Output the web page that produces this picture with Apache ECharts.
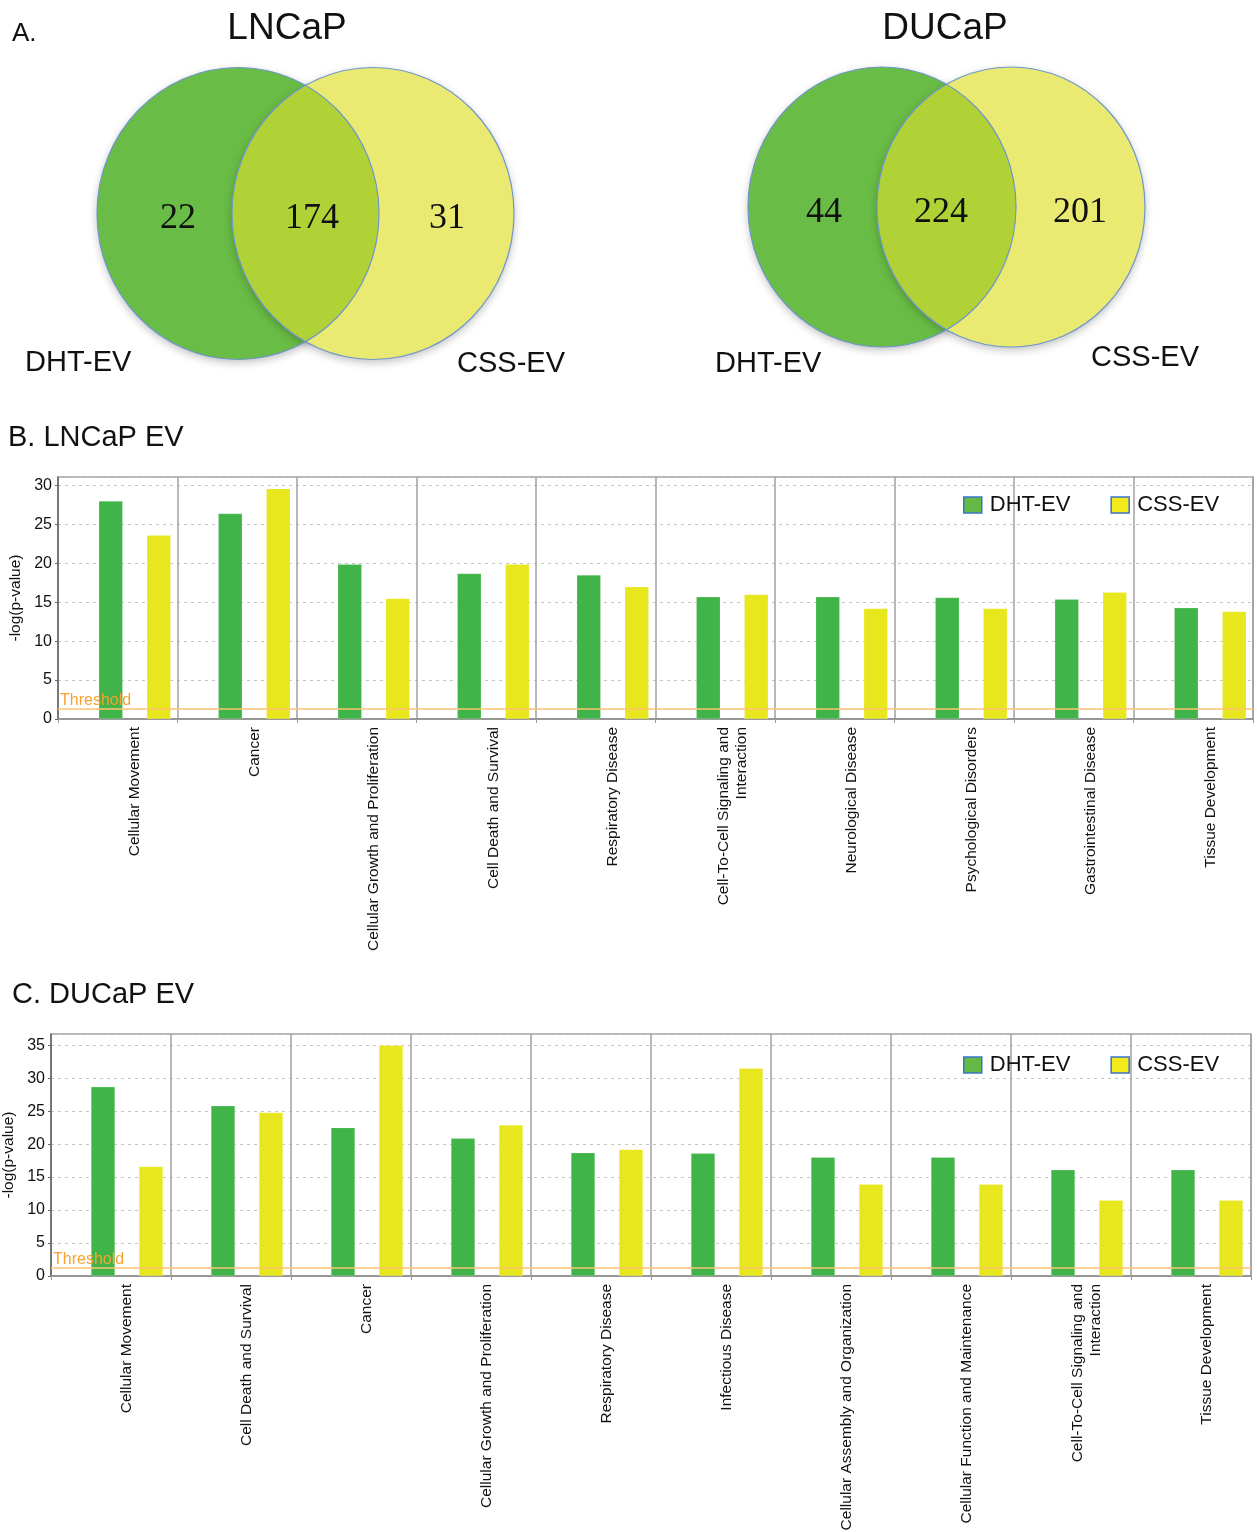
<!DOCTYPE html>
<html>
<head>
<meta charset="utf-8">
<script src="https://cdn.jsdelivr.net/npm/echarts@6/dist/echarts.min.js"></script>
<style>
html,body{margin:0;padding:0;background:#fff;}
#c{width:1257px;height:1532px;}
</style>
</head>
<body>
<div id="c"></div>
<script>
// ---------- data ----------
var seriesNames = ['DHT-EV', 'CSS-EV'];
var vennLNCaP = [22, 174, 31];   // DHT only, both, CSS only
var vennDUCaP = [44, 224, 201];

var catsB = ['Cellular Movement', 'Cancer', 'Cellular Growth and Proliferation', 'Cell Death and Survival',
  'Respiratory Disease', 'Cell-To-Cell Signaling and\nInteraction', 'Neurological Disease',
  'Psychological Disorders', 'Gastrointestinal Disease', 'Tissue Development'];
var dhtB = [28.0, 26.4, 19.9, 18.7, 18.5, 15.7, 15.7, 15.6, 15.4, 14.3];
var cssB = [23.6, 29.6, 15.5, 19.9, 17.0, 16.0, 14.2, 14.2, 16.3, 13.8];

var catsC = ['Cellular Movement', 'Cell Death and Survival', 'Cancer', 'Cellular Growth and Proliferation',
  'Respiratory Disease', 'Infectious Disease', 'Cellular Assembly and Organization',
  'Cellular Function and Maintenance', 'Cell-To-Cell Signaling and\nInteraction', 'Tissue Development'];
var dhtC = [28.7, 25.8, 22.5, 20.9, 18.7, 18.6, 18.0, 18.0, 16.1, 16.1];
var cssC = [16.6, 24.8, 35.0, 22.9, 19.2, 31.5, 13.9, 13.9, 11.5, 11.5];

var threshold = 1.3;
var ticksB = [0, 5, 10, 15, 20, 25, 30];
var ticksC = [0, 5, 10, 15, 20, 25, 30, 35];

// ---------- styles ----------
var GREEN = '#41b449', YELLOW = '#e8e61c';
var V_GREEN = '#69bc46', V_YELLOW = '#eaea72', V_OVER = '#b0d236', V_EDGE = '#6f97cc';
var SANS = '"Liberation Sans", Arial, sans-serif';

var chart = echarts.init(document.getElementById('c'), null, {renderer: 'canvas'});

// ---------- venn graphics ----------
function lensPoints(cx1, cx2, cy, rx, ry) {
  var d = cx2 - cx1;
  var t0 = Math.acos(d / 2 / rx);
  var pts = [], n = 60, i, t;
  for (i = 0; i <= n; i++) { t = -t0 + 2 * t0 * i / n; pts.push([cx1 + rx * Math.cos(t), cy + ry * Math.sin(t)]); }
  for (i = 0; i <= n; i++) { t = Math.PI - t0 + 2 * t0 * i / n; pts.push([cx2 + rx * Math.cos(t), cy + ry * Math.sin(t)]); }
  return pts;
}
function venn(g, counts, title, titleX, labelPos) {
  var els = [];
  var sh = {shadowBlur: 8, shadowColor: 'rgba(0,0,0,0.25)', shadowOffsetY: 3};
  els.push({type: 'ellipse', shape: {cx: g.c1, cy: g.cy, rx: g.rx, ry: g.ry}, style: Object.assign({fill: V_GREEN}, sh), z: 1});
  els.push({type: 'ellipse', shape: {cx: g.c2, cy: g.cy, rx: g.rx, ry: g.ry}, style: Object.assign({fill: V_YELLOW}, sh), z: 2});
  els.push({type: 'polygon', shape: {points: lensPoints(g.c1, g.c2, g.cy, g.rx, g.ry)}, style: {fill: V_OVER}, z: 3});
  els.push({type: 'ellipse', shape: {cx: g.c1, cy: g.cy, rx: g.rx, ry: g.ry}, style: {fill: null, stroke: V_EDGE, lineWidth: 1.2}, z: 4});
  els.push({type: 'ellipse', shape: {cx: g.c2, cy: g.cy, rx: g.rx, ry: g.ry}, style: {fill: null, stroke: V_EDGE, lineWidth: 1.2}, z: 4});
  for (var i = 0; i < 3; i++) {
    els.push({type: 'text', x: g.tx[i], y: g.ty, z: 5,
      style: {text: String(counts[i]), font: '36px "Liberation Serif", "Times New Roman", serif', fill: '#111', align: 'center', verticalAlign: 'middle'}});
  }
  els.push({type: 'text', x: titleX, y: 29, z: 5,
    style: {text: title, font: '37px ' + SANS, fill: '#111', align: 'center', verticalAlign: 'middle'}});
  els.push({type: 'text', x: labelPos[0], y: labelPos[1], z: 5,
    style: {text: seriesNames[0], font: '29px ' + SANS, fill: '#111', align: 'left', verticalAlign: 'middle'}});
  els.push({type: 'text', x: labelPos[2], y: labelPos[3], z: 5,
    style: {text: seriesNames[1], font: '29px ' + SANS, fill: '#111', align: 'left', verticalAlign: 'middle'}});
  return els;
}
var graphics = [];
graphics = graphics.concat(venn({c1: 238, c2: 373, cy: 213.5, rx: 141, ry: 146, tx: [178, 312, 447], ty: 219},
  vennLNCaP, 'LNCaP', 287, [25, 363, 457, 364]));
graphics = graphics.concat(venn({c1: 882, c2: 1011, cy: 207, rx: 134, ry: 140, tx: [824, 941, 1080], ty: 213},
  vennDUCaP, 'DUCaP', 945, [715, 364, 1091, 358]));
graphics.push({type: 'text', x: 12, y: 34, style: {text: 'A.', font: '26px ' + SANS, fill: '#111', align: 'left', verticalAlign: 'middle'}});
graphics.push({type: 'text', x: 8, y: 438, style: {text: 'B. LNCaP EV', font: '29px ' + SANS, fill: '#111', align: 'left', verticalAlign: 'middle'}});
graphics.push({type: 'text', x: 12, y: 995, style: {text: 'C. DUCaP EV', font: '29px ' + SANS, fill: '#111', align: 'left', verticalAlign: 'middle'}});

// ---------- bar panels ----------
function xAxisCfg(gi, cats, shift) {
  return {
    type: 'category', gridIndex: gi, data: cats,
    axisLine: {show: true, lineStyle: {color: '#8a8a8a', width: 1.5}},
    axisTick: {show: true, interval: 0, length: 4, lineStyle: {color: '#999'}},
    splitLine: {show: true, interval: 0, lineStyle: {color: '#a0a0a0', width: 1.5}},
    axisLabel: {
      interval: 0, rotate: 90, margin: 8, color: '#111',
      fontFamily: SANS, fontSize: 15.5, lineHeight: 18,
      // a blank first line moves the label under the centre of its bar pair
      formatter: function (v) { return '{sp| }\n' + v; },
      rich: {sp: {lineHeight: shift * 2, fontSize: 2}}
    }
  };
}
function yAxisCfg(gi, max) {
  return {
    type: 'value', gridIndex: gi, min: 0, max: max, interval: 5,
    name: '-log(p-value)', nameLocation: 'middle', nameGap: 34, nameRotate: 90,
    nameTextStyle: {fontFamily: SANS, fontSize: 15.5, color: '#111'},
    axisLine: {show: true, lineStyle: {color: '#666', width: 1.5}},
    axisTick: {show: true, length: 3, lineStyle: {color: '#666'}},
    axisLabel: {color: '#111', fontFamily: SANS, fontSize: 16, margin: 6, showMaxLabel: false},
    splitLine: {show: true, lineStyle: {color: '#c4c4c4', width: 1.2, type: [3, 4]}}
  };
}
function barSeries(gi, name, data, color, width) {
  return {
    name: name, type: 'bar', xAxisIndex: gi, yAxisIndex: gi, data: data,
    barWidth: width, barGap: '100%',
    itemStyle: {color: color, borderColor: 'rgba(255,255,255,0.35)', borderWidth: 0.5},
    z: 3
  };
}
function padSeries(gi, cats, width) {
  // invisible spacer that shifts the pair of bars right, as in the source layout
  return {
    name: '_pad' + gi, type: 'bar', xAxisIndex: gi, yAxisIndex: gi,
    data: cats.map(function () { return 0; }), barWidth: width, barGap: '100%',
    itemStyle: {color: 'rgba(0,0,0,0)'}, silent: true
  };
}
function thresholdLine() {
  return {
    silent: true, symbol: 'none',
    lineStyle: {color: '#fcc373', width: 1.5, type: 'solid'},
    label: {show: true, position: 'insideStartTop', formatter: 'Threshold', color: '#f7a231',
      fontFamily: SANS, fontSize: 16, distance: [2, 0]},
    data: [{yAxis: threshold}]
  };
}
var sB = barSeries(0, seriesNames[0], dhtB, GREEN, 24); sB.markLine = thresholdLine();
var sC = barSeries(1, seriesNames[0], dhtC, GREEN, 24); sC.markLine = thresholdLine();

function legendCfg(top) {
  return {
    left: 963, top: top, orient: 'horizontal', icon: 'rect', itemWidth: 18, itemHeight: 16, itemGap: 40,
    padding: 0, selectedMode: false,
    textStyle: {fontFamily: SANS, fontSize: 22, color: '#111', padding: [0, 0, 0, 3]},
    data: [
      {name: seriesNames[0], itemStyle: {color: '#63bb45', borderColor: '#3b74c9', borderWidth: 1.5}},
      {name: seriesNames[1], itemStyle: {color: '#f2ea1a', borderColor: '#3b74c9', borderWidth: 1.5}}
    ]
  };
}

var option = {
  animation: false,
  backgroundColor: '#fff',
  graphic: {elements: graphics},
  legend: [legendCfg(494), legendCfg(1054)],
  grid: [
    {left: 58, right: 4, top: 477, bottom: 1532 - 719, show: true, borderColor: '#a0a0a0', borderWidth: 1.5,
      containLabel: false, outerBoundsMode: 'none'},
    {left: 51, right: 6, top: 1034, bottom: 1532 - 1276, show: true, borderColor: '#a0a0a0', borderWidth: 1.5,
      containLabel: false, outerBoundsMode: 'none'}
  ],
  xAxis: [xAxisCfg(0, catsB, 17), xAxisCfg(1, catsC, 16)],
  yAxis: [yAxisCfg(0, 31.1), yAxisCfg(1, 36.7)],
  series: [
    padSeries(0, catsB, 17), sB, barSeries(0, seriesNames[1], cssB, YELLOW, 24),
    padSeries(1, catsC, 16), sC, barSeries(1, seriesNames[1], cssC, YELLOW, 24)
  ]
};
chart.setOption(option);
</script>
</body>
</html>
